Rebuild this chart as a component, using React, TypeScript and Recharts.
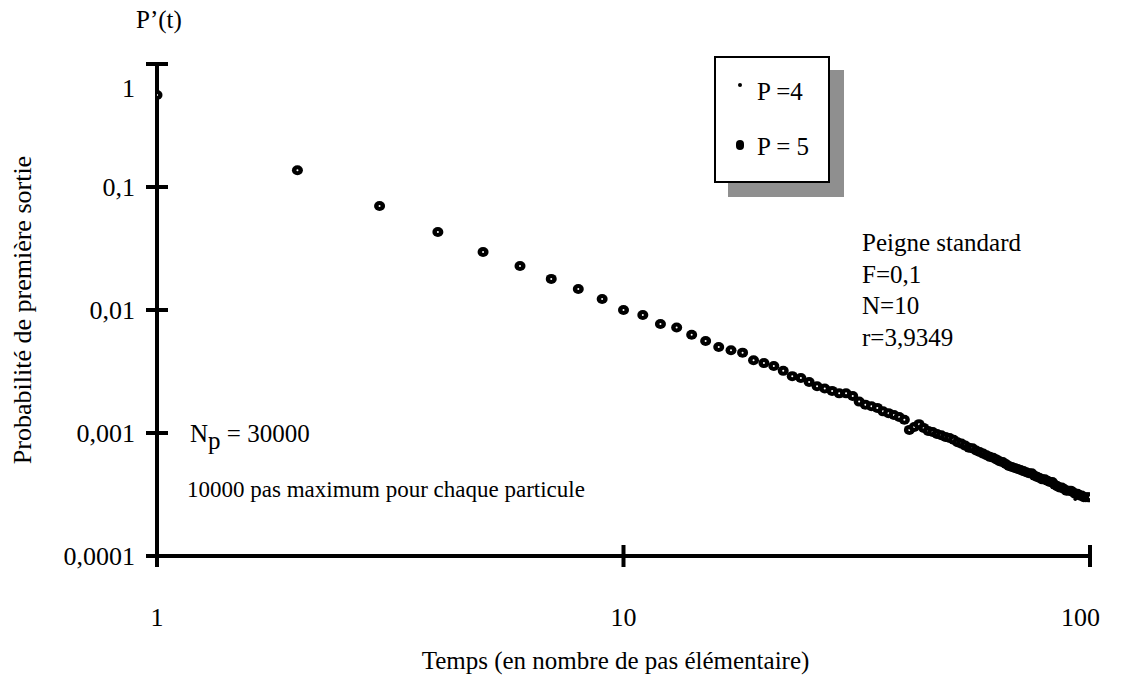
import React from 'react';
import { ScatterChart, Scatter, XAxis, YAxis, Legend, Label } from 'recharts';

// temps (pas élémentaires)
const times = [
  1, 2, 3, 4, 5, 6, 7, 8, 9, 10,
  11, 12, 13, 14, 15, 16, 17, 18, 19, 20,
  21, 22, 23, 24, 25, 26, 27, 28, 29, 30,
  31, 32, 33, 34, 35, 36, 37, 38, 39, 40,
  41, 42, 43, 44, 45, 46, 47, 48, 49, 50,
  51, 52, 53, 54, 55, 56, 57, 58, 59, 60,
  61, 62, 63, 64, 65, 66, 67, 68, 69, 70,
  71, 72, 73, 74, 75, 76, 77, 78, 79, 80,
  81, 82, 83, 84, 85, 86, 87, 88, 89, 90,
  91, 92, 93, 94, 95, 96, 97, 98, 99, 100,
];

// P = 4
const p4Values = [
  0.55, 0.135, 0.069, 0.044, 0.029, 0.0225, 0.0176, 0.0146, 0.0121, 0.0099,
  0.009, 0.0078, 0.0071, 0.0064, 0.0057, 0.0051, 0.0046, 0.0044, 0.004, 0.0037,
  0.0034, 0.0031, 0.003, 0.0028, 0.0026, 0.0025, 0.0023, 0.0022, 0.0021, 0.002,
  0.0019, 0.0018, 0.0017, 0.0016, 0.00158, 0.0015, 0.00143, 0.00138, 0.0013, 0.00125,
  0.0011, 0.00115, 0.00114, 0.00108, 0.00103, 0.001, 0.00097, 0.00095, 0.00092, 0.0009,
  0.00087, 0.00085, 0.00081, 0.00078, 0.00077, 0.00074, 0.00072, 0.00069, 0.00067, 0.00065,
  0.00064, 0.00062, 0.0006, 0.00059, 0.00057, 0.00056, 0.00054, 0.00052, 0.00051, 0.0005,
  0.00049, 0.00048, 0.00047, 0.00046, 0.00046, 0.00045, 0.00044, 0.00043, 0.00042, 0.00041,
  0.0004, 0.0004, 0.00039, 0.00038, 0.00037, 0.00036, 0.00035, 0.00035, 0.00034, 0.00033,
  0.00033, 0.00032, 0.00029, 0.00031, 0.00031, 0.0003, 0.0003, 0.00029, 0.00029, 0.00029,
];

// P = 5
const p5Values = [
  0.56, 0.137, 0.07, 0.043, 0.0296, 0.0228, 0.0179, 0.0148, 0.0123, 0.01,
  0.0091, 0.0077, 0.0072, 0.0063, 0.0056, 0.005, 0.0047, 0.0045, 0.0039, 0.0037,
  0.0035, 0.0032, 0.0029, 0.0028, 0.0026, 0.0024, 0.0023, 0.0022, 0.0021, 0.0021,
  0.002, 0.0018, 0.0017, 0.00165, 0.0016, 0.0015, 0.00145, 0.0014, 0.00135, 0.00128,
  0.00106, 0.00112, 0.00118, 0.0011, 0.00104, 0.00102, 0.00098, 0.00096, 0.00093, 0.00091,
  0.00088, 0.00084, 0.00082, 0.00079, 0.00076, 0.00075, 0.00072, 0.0007, 0.00068, 0.00066,
  0.00064, 0.00063, 0.00061, 0.00059, 0.00058, 0.00056, 0.00054, 0.00053, 0.00052, 0.00051,
  0.0005, 0.00049, 0.00048, 0.00047, 0.00047, 0.00045, 0.00044, 0.00043, 0.00042, 0.00042,
  0.00041, 0.0004, 0.0004, 0.00038, 0.00037, 0.00036, 0.00036, 0.00035, 0.00034, 0.00034,
  0.00034, 0.00033, 0.00032, 0.00032, 0.00031, 0.00031, 0.0003, 0.0003, 0.0003, 0.0003,
];

const xTicks = [1, 10, 100];
const yTicks = [0.0001, 0.001, 0.01, 0.1, 1];
const yTickLabels = ['0,0001', '0,001', '0,01', '0,1', '1'];

const p4Data = times.map((t, i) => ({ t, p: p4Values[i] }));
const p5Data = times.map((t, i) => ({ t, p: p5Values[i] }));

const FONT = '"Liberation Serif", "DejaVu Serif", serif';
const TICK_GAP = 61;
const Y_GAP = 16;

const XTick = (props: any) => {
  const { x, y, payload, index } = props;
  const axisY = y - TICK_GAP;
  const isLast = index === xTicks.length - 1;
  return (
    <g>
      <line x1={x} x2={x} y1={axisY - 11} y2={axisY + 11} stroke="#000" strokeWidth={4} />
      <text x={isLast ? x + 10 : x} y={y} dy="0.35em" textAnchor={isLast ? 'end' : 'middle'} fontFamily={FONT} fontSize={26} fill="#000">
        {payload.value}
      </text>
    </g>
  );
};

const YTick = (props: any) => {
  const { x, y, payload, index } = props;
  const axisX = x + Y_GAP;
  const label = yTickLabels[yTicks.indexOf(payload.value)] ?? String(payload.value);
  const isTop = index === yTicks.length - 1;
  return (
    <g>
      <line x1={axisX - 11} x2={axisX + 11} y1={y} y2={y} stroke="#000" strokeWidth={4} />
      <text x={x - 6} y={isTop ? y + 24 : y} dy="0.35em" textAnchor="end" fontFamily={FONT} fontSize={26} fill="#000">
        {label}
      </text>
    </g>
  );
};

const BigDot = (props: any) => {
  const { cx, cy } = props;
  if (cx == null || cy == null) return null;
  return (
    <g>
      <ellipse cx={cx} cy={cy} rx={5.5} ry={5} fill="#000" />
      <circle cx={cx} cy={cy} r={1} fill="#fff" />
    </g>
  );
};

const SmallDot = (props: any) => {
  const { cx, cy } = props;
  if (cx == null || cy == null) return null;
  return <circle cx={cx} cy={cy} r={1.8} fill="#000" />;
};

const LegendBox = () => (
  <div
    style={{
      width: 112,
      height: 123,
      border: '2px solid #000',
      background: '#fff',
      boxShadow: '14px 14px 0 #8f8f8f',
      fontFamily: FONT,
      fontSize: 25,
      color: '#000',
      position: 'relative',
    }}
  >
    <div style={{ position: 'absolute', left: 22, top: 25, width: 4, height: 4, borderRadius: 2, background: '#000' }} />
    <div style={{ position: 'absolute', left: 41, top: 20, whiteSpace: 'nowrap' }}>P =4</div>
    <div style={{ position: 'absolute', left: 20, top: 82, width: 8, height: 10, borderRadius: 5, background: '#000' }} />
    <div style={{ position: 'absolute', left: 41, top: 75, whiteSpace: 'nowrap' }}>P = 5</div>
  </div>
);

const textStyle: React.CSSProperties = {
  position: 'absolute',
  fontFamily: FONT,
  fontSize: 25,
  color: '#000',
  whiteSpace: 'nowrap',
  lineHeight: '32px',
};

const App: React.FC = () => {
  return (
    <div style={{ position: 'absolute', left: 0, top: 0, width: 1126, height: 686, background: '#fff' }}>
      <ScatterChart width={1126} height={686} margin={{ top: 64, right: 36, bottom: 30, left: 17 }}>
        <XAxis
          type="number"
          dataKey="t"
          scale="log"
          domain={[1, 100]}
          ticks={xTicks}
          allowDataOverflow
          height={100}
          axisLine={{ stroke: '#000', strokeWidth: 4 }}
          tickLine={false}
          tickSize={0}
          tickMargin={TICK_GAP}
          tick={<XTick />}
          interval={0}
        >
          <Label
            content={(p: any) => {
              const vb = p.viewBox;
              return (
                <text x={vb.x + vb.width / 2 - 8} y={660} dy="0.35em" textAnchor="middle" fontFamily={FONT} fontSize={25} fill="#000">
                  Temps (en nombre de pas élémentaire)
                </text>
              );
            }}
          />
        </XAxis>
        <YAxis
          type="number"
          dataKey="p"
          scale="log"
          domain={[0.0001, 1]}
          ticks={yTicks}
          allowDataOverflow
          width={140}
          axisLine={{ stroke: '#000', strokeWidth: 4 }}
          tickLine={false}
          tickSize={0}
          tickMargin={Y_GAP}
          tick={<YTick />}
          interval={0}
        >
          <Label
            content={(p: any) => {
              const vb = p.viewBox;
              const cy = vb.y + vb.height / 2;
              return (
                <text x={22} y={cy} dy="0.35em" textAnchor="middle" transform={`rotate(-90 22 ${cy})`} fontFamily={FONT} fontSize={26} fill="#000">
                  Probabilité de première sortie
                </text>
              );
            }}
          />
        </YAxis>
        <Legend
          layout="horizontal"
          verticalAlign="middle"
          align="center"
          content={<LegendBox />}
          wrapperStyle={{ position: 'absolute', left: 714, top: 56, width: 'auto', height: 'auto' }}
        />
        <Scatter name="P =4" data={p4Data} shape={<SmallDot />} isAnimationActive={false} />
        <Scatter name="P = 5" data={p5Data} shape={<BigDot />} isAnimationActive={false} />
      </ScatterChart>
      <div style={{ ...textStyle, left: 136, top: 4 }}>P’(t)</div>
      <div style={{ ...textStyle, left: 862, top: 227 }}>Peigne standard</div>
      <div style={{ ...textStyle, left: 862, top: 259 }}>F=0,1</div>
      <div style={{ ...textStyle, left: 862, top: 290 }}>N=10</div>
      <div style={{ ...textStyle, left: 862, top: 322 }}>r=3,9349</div>
      <div style={{ ...textStyle, left: 190, top: 418 }}>
        N<span style={{ position: 'relative', top: 7 }}>p</span> = 30000
      </div>
      <div style={{ ...textStyle, fontSize: 23, left: 187, top: 474 }}>10000 pas maximum pour chaque particule</div>
    </div>
  );
};

export default App;
